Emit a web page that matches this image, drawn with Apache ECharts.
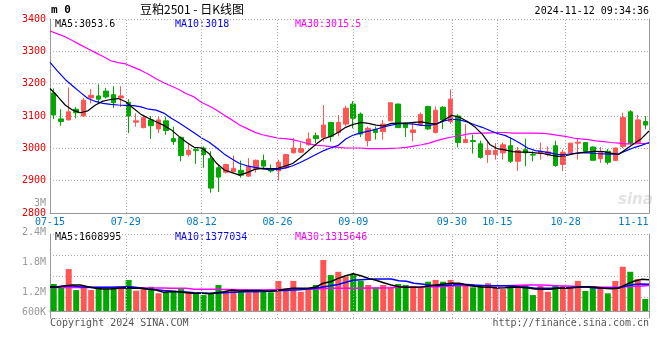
<!DOCTYPE html>
<html><head><meta charset="utf-8">
<script src="https://cdn.jsdelivr.net/npm/echarts@6/dist/echarts.min.js"></script>
<style>html,body{margin:0;padding:0;background:#fff}#c{width:660px;height:360px}</style>
</head><body><div id="c"></div>
<script>
const dates = ['07-15','07-16','07-17','07-18','07-19','07-22','07-23','07-24','07-25','07-26','07-29','07-30','07-31',
'08-01','08-02','08-05','08-06','08-07','08-08','08-09','08-12','08-13','08-14','08-15','08-16','08-19','08-20','08-21','08-22','08-23','08-26','08-27','08-28','08-29','08-30',
'09-02','09-03','09-04','09-05','09-06','09-09','09-10','09-11','09-12','09-13','09-18','09-19','09-20','09-23','09-24','09-25','09-26','09-27','09-30',
'10-08','10-09','10-10','10-11','10-14','10-15','10-16','10-17','10-18','10-21','10-22','10-23','10-24','10-25','10-28','10-29','10-30','10-31',
'11-01','11-04','11-05','11-06','11-07','11-08','11-11','11-12'];
const tickDates = ['07-15','07-29','08-12','08-26','09-09','09-30','10-15','10-28','11-11'];
const gridDates = ['07-29','08-12','08-26','09-09','09-30','10-15','10-28'];
const priceTicks = [2800, 3400, 100];
const volTicks = [600000, 3000000, 600000];

const opens = [3171,3091,3088,3121,3100,3156,3162,3177,3166,3156,3142,3081,3064,3088,3060,3085,3030,3034,2981,2996,
3001,2968,2940,2926,2928,2932,2914,2938,2962,2935,2930,2940,2986,2988,3011,3039,3034,3080,3049,3075,
3137,3106,3024,3059,3052,3085,3137,3078,3049,3072,3129,3049,3127,3083,3100,3018,3024,3014,2981,2981,
2986,3008,2960,2996,2981,2984,2981,3008,2950,2986,3016,3018,3004,2968,2991,2962,3006,3113,3018,3083];
const closes = [3103,3083,3113,3110,3149,3164,3152,3159,3141,3162,3100,3085,3095,3070,3088,3055,3021,2978,2994,2993,
2981,2877,2911,2950,2938,2917,2943,2963,2945,2930,2957,2981,3001,2999,3029,3030,3072,3037,3080,3124,
3093,3044,3062,3049,3075,3141,3064,3064,3057,3105,3060,3118,3088,3152,3018,3027,3021,2972,2994,2993,
3011,2960,2993,2986,2979,2991,2989,2947,2988,3016,3019,2991,2963,2988,2957,3001,3095,3016,3088,3072];
const lows = [3090,3070,3086,3093,3098,3139,3139,3154,3125,3128,3047,3067,3062,3029,3047,3042,3011,2960,2975,2952,
2940,2863,2865,2922,2925,2909,2912,2925,2935,2925,2902,2939,2984,2986,3008,3016,3021,3021,3037,3069,
3062,3035,3006,3027,3027,3084,3063,3035,3021,3070,3057,3046,3060,3075,3003,3016,2984,2968,2955,2965,
2965,2955,2930,2945,2960,2965,2975,2943,2930,2985,2965,2990,2962,2955,2950,2961,3001,3011,3016,3059];
const highs = [3185,3121,3188,3128,3156,3183,3198,3187,3192,3192,3152,3108,3100,3100,3098,3098,3067,3036,3014,3004,
3006,2991,2950,2953,2978,2962,2970,2965,2981,2950,2965,2982,3032,3018,3049,3049,3134,3082,3103,3132,
3146,3111,3067,3067,3088,3142,3138,3081,3078,3111,3132,3130,3131,3182,3105,3075,3042,3024,3021,3016,
3018,3034,3004,3030,2991,3018,3006,3024,2996,3018,3029,3019,3006,3004,2998,3002,3110,3118,3103,3100];

const ma5 = [3185,3161,3134,3118,3110,3116,3134,3146,3151,3154,3144,3124,3105,3093,3082,3071,3057,3037,3019,3003,
3001,2983,2953,2933,2925,2917,2925,2935,2938,2937,2938,2945,2953,2971,2991,3011,3029,3037,3049,3065,
3074,3080,3077,3072,3069,3077,3078,3078,3080,3082,3077,3075,3088,3102,3096,3084,3067,3044,3012,2999,
2995,2990,2988,2988,2986,2984,2979,2975,2977,2983,2987,2989,2991,2990,2985,2981,2998,3014,3030,3053.6];
const ma10 = [3266,3239,3213,3193,3173,3154,3145,3139,3136,3134,3133,3132,3128,3121,3118,3109,3093,3079,3064,3048,
3032,3019,3001,2982,2967,2953,2946,2941,2937,2933,2935,2939,2946,2956,2968,2980,2992,3001,3009,3029,
3041,3048,3053,3059,3066,3072,3076,3076,3075,3071,3070,3076,3085,3090,3088,3082,3073,3065,3055,3046,
3040,3029,3016,3001,2993,2990,2986,2981,2981,2984,2986,2986,2984,2983,2982,2983,2993,3002,3009,3018];
const ma30 = [3363,3354,3345,3333,3320,3308,3296,3284,3271,3265,3261,3251,3241,3229,3215,3203,3193,3182,3169,3159,
3142,3131,3118,3102,3088,3072,3061,3050,3042,3037,3032,3030,3027,3021,3015,3010,3008,3005,3003,3001,
3001,3001,2999,2999,2999,3000,3001,3003,3007,3011,3016,3024,3030,3035,3039,3044,3046,3047,3048,3049,
3049,3047,3047,3047,3047,3046,3044,3040,3037,3032,3029,3027,3023,3021,3018,3016,3014,3014,3015,3015.5];

const vols = [1390000,1220000,2160000,1080000,1220000,1080000,1220000,1170000,1220000,1220000,
1600000,1050000,1170000,1250000,910000,960000,1050000,1130000,960000,910000,
820000,910000,1340000,1030000,1120000,990000,960000,1080000,1050000,960000,
1550000,1080000,1550000,990000,1170000,1340000,2630000,1850000,2020000,1770000,
1910000,1560000,1340000,1220000,1340000,1250000,1390000,1340000,1290000,1220000,
1510000,1600000,1510000,1600000,1340000,1340000,1220000,1290000,1430000,1220000,
1130000,1340000,1250000,1340000,820000,1290000,990000,1340000,1290000,1220000,
1550000,1030000,1220000,1220000,910000,1550000,2280000,2020000,1650000,620000];
const vma5 = [1250000,1220000,1300000,1340000,1340000,1250000,1170000,1130000,1130000,1170000,
1200000,1170000,1170000,1120000,1080000,960000,990000,990000,940000,910000,
910000,890000,940000,990000,1080000,1030000,1050000,1050000,1050000,1010000,
1060000,1120000,1170000,1170000,1170000,1220000,1430000,1510000,1680000,1820000,
1920000,1820000,1680000,1580000,1460000,1340000,1250000,1220000,1220000,1240000,
1290000,1340000,1390000,1430000,1430000,1340000,1270000,1240000,1220000,1190000,
1200000,1220000,1220000,1190000,1130000,1120000,1120000,1170000,1170000,1200000,
1250000,1250000,1220000,1170000,1150000,1170000,1370000,1530000,1630000,1608995];
const vma10 = [1220000,1250000,1300000,1290000,1250000,1220000,1220000,1220000,1220000,1240000,
1250000,1240000,1190000,1130000,1100000,1060000,1030000,990000,980000,940000,
930000,910000,910000,940000,960000,980000,990000,990000,1010000,1030000,
1050000,1060000,1080000,1100000,1130000,1170000,1240000,1300000,1370000,1480000,
1580000,1610000,1630000,1650000,1650000,1650000,1560000,1530000,1430000,1390000,
1340000,1300000,1320000,1340000,1360000,1370000,1340000,1320000,1300000,1300000,
1300000,1290000,1250000,1220000,1170000,1170000,1170000,1190000,1200000,1220000,
1220000,1220000,1190000,1170000,1170000,1200000,1290000,1360000,1390000,1377034];
const vma30 = [1210000,1210000,1215000,1215000,1215000,1210000,1210000,1210000,1205000,1205000,
1200000,1200000,1195000,1190000,1185000,1180000,1175000,1175000,1170000,1120000,
1120000,1120000,1115000,1110000,1110000,1100000,1090000,1085000,1080000,1090000,
1100000,1115000,1120000,1120000,1120000,1130000,1165000,1170000,1175000,1175000,
1175000,1175000,1180000,1180000,1190000,1200000,1220000,1220000,1230000,1240000,
1250000,1250000,1260000,1300000,1300000,1300000,1300000,1300000,1300000,1300000,
1300000,1320000,1330000,1340000,1340000,1340000,1320000,1300000,1290000,1270000,
1250000,1250000,1240000,1230000,1220000,1230000,1250000,1270000,1290000,1315646];

const MONO = '"DejaVu Sans Mono", "Liberation Mono", monospace';
const UP = '#ff5555', DOWN = '#00a800';
const GRIDC = '#aaaaaa', BORDER = '#999999';
const N = dates.length;
const tickIdx = tickDates.map(d => dates.indexOf(d));
const gridIdx = gridDates.map(d => dates.indexOf(d));
const lastTick = tickIdx[tickIdx.length - 1];

const candleData = opens.map((o, i) => [o, closes[i], lows[i], highs[i]]);
const volData = vols.map((v, i) => ({ value: v, itemStyle: { color: closes[i] >= opens[i] ? UP : DOWN } }));
const pts = arr => arr.map((v, i) => [i, v]);
const dotted = { color: GRIDC, type: [1, 2], width: 1 };
const vLines = gridIdx.map(i => ({ xAxis: i }));

const chart = echarts.init(document.getElementById('c'), null, { renderer: 'canvas' });
const fmtVol = v => v >= 1000000 ? (v / 1000000) + 'M' : (v / 1000) + 'K';

chart.setOption({
  animation: false,
  backgroundColor: '#ffffff',
  textStyle: { fontFamily: MONO },
  grid: [
    { left: 50, top: 19, width: 599, height: 194 },
    { left: 50, top: 234, width: 599, height: 84 },
    { left: 50, top: 204, width: 599, height: 119 }
  ],
  xAxis: [
    { type: 'category', gridIndex: 0, data: dates, boundaryGap: true,
      axisLine: { show: true, lineStyle: { color: BORDER } }, axisTick: { show: false },
      axisLabel: { show: false }, splitLine: { show: false } },
    { type: 'value', gridIndex: 0, min: 0, max: N - 1, position: 'bottom',
      axisLine: { show: false }, axisTick: { show: false }, splitLine: { show: false },
      axisLabel: { show: true, customValues: tickIdx, color: '#0078c8', fontSize: 10, fontFamily: MONO, margin: 4,
        formatter: v => v === lastTick ? '{last|' + dates[v] + '}' : dates[v],
        rich: { last: { color: '#0078c8', fontSize: 10, fontFamily: MONO, padding: [0, 16, 0, 0] } } } },
    { type: 'category', gridIndex: 1, data: dates, boundaryGap: true,
      axisLine: { show: true, lineStyle: { color: BORDER } }, axisTick: { show: false },
      axisLabel: { show: false }, splitLine: { show: false } },
    { type: 'value', gridIndex: 1, min: 0, max: N - 1, show: false },
    { type: 'value', gridIndex: 2, min: 0, max: 1, show: false }
  ],
  yAxis: [
    { type: 'value', gridIndex: 0, min: priceTicks[0], max: priceTicks[1], interval: priceTicks[2], position: 'left',
      axisLine: { show: true, lineStyle: { color: BORDER } }, axisTick: { show: false },
      axisLabel: { color: '#e00000', fontSize: 10, fontFamily: MONO, margin: 4, padding: [0, 0, 5, 0], formatter: v => String(v) },
      splitLine: { show: true, lineStyle: dotted } },
    { type: 'value', gridIndex: 0, min: priceTicks[0], max: priceTicks[1], position: 'right',
      axisLine: { show: true, lineStyle: { color: BORDER } }, axisTick: { show: false },
      axisLabel: { show: false }, splitLine: { show: false } },
    { type: 'value', gridIndex: 1, min: -360000, max: 3966000, show: false },
    { type: 'value', gridIndex: 1, min: 0, max: 4, interval: 1, position: 'left',
      axisLine: { show: true, lineStyle: { color: BORDER } }, axisTick: { show: false },
      axisLabel: { show: false }, splitLine: { show: true, lineStyle: dotted } },
    { type: 'value', gridIndex: 1, min: 0, max: 4, position: 'right',
      axisLine: { show: true, lineStyle: { color: BORDER } }, axisTick: { show: false },
      axisLabel: { show: false }, splitLine: { show: false } },
    { type: 'value', gridIndex: 2, min: volTicks[0], max: volTicks[1], interval: volTicks[2], position: 'left',
      axisLine: { show: false }, axisTick: { show: false }, splitLine: { show: false },
      axisLabel: { color: '#999999', fontSize: 10, fontFamily: MONO, margin: 4, padding: [0, 0, 2, 0],
        formatter: v => v === volTicks[0] ? '{lo|' + fmtVol(v) + '}' : fmtVol(v),
        rich: { lo: { color: '#999999', fontSize: 10, fontFamily: MONO, padding: [0, 0, 20, 0] } } } }
  ],
  series: [
    { type: 'line', xAxisIndex: 1, yAxisIndex: 0, data: [], z: 1, silent: true,
      markLine: { silent: true, symbol: ['none', 'none'], label: { show: false }, lineStyle: dotted, data: vLines } },
    { type: 'candlestick', xAxisIndex: 0, yAxisIndex: 0, data: candleData, barWidth: 5, z: 2,
      itemStyle: { color: UP, color0: DOWN, borderColor: UP, borderColor0: DOWN, borderWidth: 1 } },
    { type: 'line', xAxisIndex: 1, yAxisIndex: 0, data: pts(ma30), symbol: 'none', z: 3, lineStyle: { color: '#ff00ff', width: 1.2 } },
    { type: 'line', xAxisIndex: 1, yAxisIndex: 0, data: pts(ma10), symbol: 'none', z: 3, lineStyle: { color: '#0000ff', width: 1.2 } },
    { type: 'line', xAxisIndex: 1, yAxisIndex: 0, data: pts(ma5), symbol: 'none', z: 3, lineStyle: { color: '#000000', width: 1.2 } },
    { type: 'line', xAxisIndex: 3, yAxisIndex: 3, data: [], z: 1, silent: true,
      markLine: { silent: true, symbol: ['none', 'none'], label: { show: false }, lineStyle: dotted, data: vLines } },
    { type: 'bar', xAxisIndex: 2, yAxisIndex: 2, data: volData, barWidth: 6, z: 2 },
    { type: 'line', xAxisIndex: 3, yAxisIndex: 2, data: pts(vma30), symbol: 'none', z: 3, lineStyle: { color: '#ff00ff', width: 1.5 } },
    { type: 'line', xAxisIndex: 3, yAxisIndex: 2, data: pts(vma10), symbol: 'none', z: 3, lineStyle: { color: '#0000ff', width: 1.5 } },
    { type: 'line', xAxisIndex: 3, yAxisIndex: 2, data: pts(vma5), symbol: 'none', z: 3, lineStyle: { color: '#000000', width: 1.5 } }
  ],
  graphic: [
    { type: 'text', left: 51, top: 5, style: { text: 'm 0', font: 'bold 11px ' + MONO, fill: '#000' } },
    { type: 'text', left: 140, top: 3, style: { text: '豆粕2501 - 日K线图', font: '12px "Noto Sans CJK SC", sans-serif', fill: '#000' } },
    { type: 'text', right: 11, top: 6, style: { text: '2024-11-12 09:34:36', font: '10px ' + MONO, fill: '#000' } },
    { type: 'text', left: 55, top: 19, style: { text: 'MA5:' + ma5[N - 1], font: '10px ' + MONO, fill: '#000000' } },
    { type: 'text', left: 175, top: 19, style: { text: 'MA10:' + ma10[N - 1], font: '10px ' + MONO, fill: '#0000ff' } },
    { type: 'text', left: 295, top: 19, style: { text: 'MA30:' + ma30[N - 1], font: '10px ' + MONO, fill: '#ff00ff' } },
    { type: 'text', left: 55, top: 232, style: { text: 'MA5:' + vma5[N - 1], font: '10px ' + MONO, fill: '#000000' } },
    { type: 'text', left: 175, top: 232, style: { text: 'MA10:' + vma10[N - 1], font: '10px ' + MONO, fill: '#0000ff' } },
    { type: 'text', left: 295, top: 232, style: { text: 'MA30:' + vma30[N - 1], font: '10px ' + MONO, fill: '#ff00ff' } },
    { type: 'text', left: 50, top: 318, style: { text: 'Copyright 2024 SINA.COM', font: '10px ' + MONO, fill: '#555555' } },
    { type: 'text', right: 11, top: 318, style: { text: 'http://finance.sina.com.cn', font: '10px ' + MONO, fill: '#555555' } },
    { type: 'text', left: 618, top: 193, style: { text: 'sina', font: 'italic bold 15px "DejaVu Sans", sans-serif', fill: '#e2e2e2' } }
  ]
});
</script></body></html>
